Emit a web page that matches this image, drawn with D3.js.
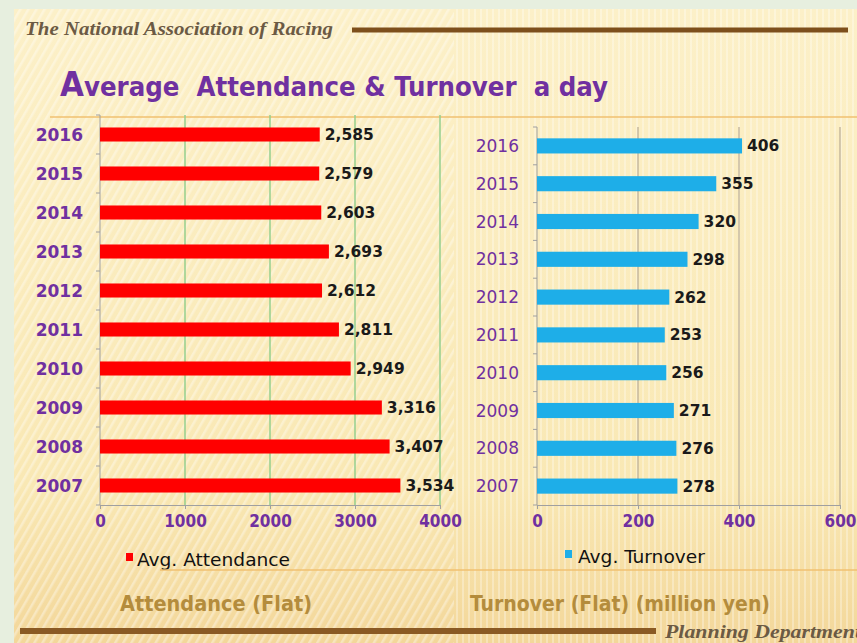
<!DOCTYPE html>
<html>
<head>
<meta charset="utf-8">
<script src="https://cdn.jsdelivr.net/npm/d3@7"></script>
<style>
html,body{margin:0;padding:0;background:#e7efdf;}
svg{display:block;}
</style>
</head>
<body>
<svg id="chart" width="857" height="643"></svg>
<script>
// ---- data ----
const years = ["2016","2015","2014","2013","2012","2011","2010","2009","2008","2007"];
const attendance = [2585, 2579, 2603, 2693, 2612, 2811, 2949, 3316, 3407, 3534];
const turnover = [406, 355, 320, 298, 262, 253, 256, 271, 276, 278];
const attendanceTicks = [0, 1000, 2000, 3000, 4000];
const turnoverTicks = [0, 200, 400, 600];

const svg = d3.select("#chart");
const W = 857, H = 643;
const condensed = "'DejaVu Sans Condensed','Liberation Sans Narrow','DejaVu Sans',sans-serif";
const purple = "#7030a0";

// ---- background ----
const defs = svg.append("defs");
const bg = defs.append("linearGradient").attr("id","bgGrad").attr("x1",0).attr("y1",0).attr("x2",0).attr("y2",1);
bg.append("stop").attr("offset","0%").attr("stop-color","#fcf0c8");
bg.append("stop").attr("offset","75%").attr("stop-color","#f9e8b4");
bg.append("stop").attr("offset","100%").attr("stop-color","#f3d79a");
const diag = defs.append("pattern").attr("id","diag").attr("width",7).attr("height",7)
  .attr("patternUnits","userSpaceOnUse").attr("patternTransform","rotate(30)");
diag.append("rect").attr("width",2.5).attr("height",7).attr("fill","#ffffff").attr("opacity",0.35);
const vert = defs.append("pattern").attr("id","vert").attr("width",6).attr("height",6)
  .attr("patternUnits","userSpaceOnUse");
vert.append("rect").attr("width",2).attr("height",6).attr("fill","#ffffff").attr("opacity",0.3);

svg.append("rect").attr("x",14).attr("y",9).attr("width",W-14).attr("height",H-9).attr("fill","url(#bgGrad)");
svg.append("rect").attr("x",14).attr("y",9).attr("width",440).attr("height",H-9).attr("fill","url(#diag)");
svg.append("rect").attr("x",454).attr("y",9).attr("width",W-454).attr("height",H-9).attr("fill","url(#vert)");

// header
svg.append("text").attr("x",25).attr("y",35)
  .attr("font-family","'Liberation Serif','DejaVu Serif',serif").attr("font-style","italic").attr("font-weight","bold")
  .attr("font-size",18).attr("fill","#6b5a44").attr("textLength",308).attr("lengthAdjust","spacingAndGlyphs")
  .text("The National Association of Racing");
svg.append("line").attr("x1",352).attr("x2",848).attr("y1",30).attr("y2",30)
  .attr("stroke","#7d4f1c").attr("stroke-width",5);
svg.append("line").attr("x1",50).attr("x2",W).attr("y1",117).attr("y2",117)
  .attr("stroke","#f0c070").attr("stroke-width",1.5);

// title
const title = svg.append("text").attr("x",60).attr("y",96).style("white-space","pre")
  .attr("font-family",condensed).attr("font-weight","bold").attr("fill",purple)
  .attr("textLength",548).attr("lengthAdjust","spacingAndGlyphs");
title.append("tspan").attr("font-size",34).text("A");
title.append("tspan").attr("font-size",27).text("verage  Attendance & Turnover  a day");

// ---- left chart: attendance ----
const xA = d3.scaleLinear().domain([0,4000]).range([100,440]);
const yA = d3.scaleBand().domain(years).range([115,505]).paddingInner(0.64).paddingOuter(0.32);

const gA = svg.append("g");
gA.selectAll("line.grid").data(attendanceTicks.slice(1)).join("line")
  .attr("x1",d=>xA(d)).attr("x2",d=>xA(d)).attr("y1",115).attr("y2",505)
  .attr("stroke","#96cf8e").attr("stroke-width",1.5);

gA.append("line").attr("x1",100).attr("x2",100).attr("y1",115).attr("y2",505).attr("stroke","#a0a0a0");
const stepA = yA.step();
gA.selectAll("line.tk").data(d3.range(years.length+1)).join("line")
  .attr("x1",96).attr("x2",100).attr("y1",i=>115+i*stepA).attr("y2",i=>115+i*stepA).attr("stroke","#a0a0a0");

const axA = gA.append("g").attr("transform","translate(0,505)")
  .call(d3.axisBottom(xA).tickValues(attendanceTicks).tickFormat(d3.format("d")).tickSize(4).tickPadding(6));
axA.select(".domain").attr("stroke","#a0a0a0");
axA.selectAll(".tick line").attr("stroke","#a0a0a0");
axA.selectAll("text").attr("font-family",condensed).attr("font-size",17).attr("fill",purple).attr("font-weight","bold");

gA.selectAll("rect.bar").data(attendance).join("rect")
  .attr("x",xA(0)).attr("y",(d,i)=>yA(years[i]))
  .attr("width",d=>xA(d)-xA(0)).attr("height",yA.bandwidth()).attr("fill","#ff0000");

gA.selectAll("text.year").data(years).join("text")
  .attr("x",83).attr("y",d=>yA(d)+yA.bandwidth()/2).attr("dy","0.36em").attr("text-anchor","end")
  .attr("font-family","'DejaVu Sans',sans-serif").attr("font-weight","bold").attr("font-size",17).attr("fill",purple)
  .text(d=>d);

gA.selectAll("text.val").data(attendance).join("text")
  .attr("x",d=>xA(d)+5).attr("y",(d,i)=>yA(years[i])+yA.bandwidth()/2).attr("dy","0.36em")
  .attr("font-family","'DejaVu Sans',sans-serif").attr("font-weight","bold").attr("font-size",15.5).attr("fill","#1a1a1a")
  .text(d=>d3.format(",")(d));

// ---- right chart: turnover ----
const xB = d3.scaleLinear().domain([0,600]).range([537,840]);
const yB = d3.scaleBand().domain(years).range([127,505]).paddingInner(0.6).paddingOuter(0.3);

const gB = svg.append("g");
gB.selectAll("line.grid").data(turnoverTicks.slice(1)).join("line")
  .attr("x1",d=>xB(d)).attr("x2",d=>xB(d)).attr("y1",127).attr("y2",505)
  .attr("stroke","#b9ab92").attr("stroke-width",1.2);
gB.append("line").attr("x1",537).attr("x2",537).attr("y1",127).attr("y2",505).attr("stroke","#a0a0a0");
const stepB = yB.step();
gB.selectAll("line.tk").data(d3.range(years.length+1)).join("line")
  .attr("x1",533).attr("x2",537).attr("y1",i=>127+i*stepB).attr("y2",i=>127+i*stepB).attr("stroke","#a0a0a0");

const axB = gB.append("g").attr("transform","translate(0,505)")
  .call(d3.axisBottom(xB).tickValues(turnoverTicks).tickFormat(d3.format("d")).tickSize(4).tickPadding(6));
axB.select(".domain").attr("stroke","#a0a0a0");
axB.selectAll(".tick line").attr("stroke","#a0a0a0");
axB.selectAll("text").attr("font-family",condensed).attr("font-size",17).attr("fill",purple).attr("font-weight","bold");

gB.selectAll("rect.bar").data(turnover).join("rect")
  .attr("x",xB(0)).attr("y",(d,i)=>yB(years[i]))
  .attr("width",d=>xB(d)-xB(0)).attr("height",yB.bandwidth()).attr("fill","#1eaee8");

gB.selectAll("text.year").data(years).join("text")
  .attr("x",519).attr("y",d=>yB(d)+yB.bandwidth()/2).attr("dy","0.36em").attr("text-anchor","end")
  .attr("font-family","'DejaVu Sans',sans-serif").attr("font-size",17).attr("fill",purple)
  .text(d=>d);

gB.selectAll("text.val").data(turnover).join("text")
  .attr("x",d=>xB(d)+5).attr("y",(d,i)=>yB(years[i])+yB.bandwidth()/2).attr("dy","0.36em")
  .attr("font-family","'DejaVu Sans',sans-serif").attr("font-weight","bold").attr("font-size",15.5).attr("fill","#1a1a1a")
  .text(d=>d);

// ---- legends ----
svg.append("rect").attr("x",126).attr("y",553).attr("width",7).attr("height",8).attr("fill","#ff0000");
svg.append("text").attr("x",137).attr("y",566).attr("font-family",condensed).attr("font-size",17).attr("fill","#111")
  .attr("textLength",153).attr("lengthAdjust","spacingAndGlyphs")
  .text("Avg. Attendance");
svg.append("rect").attr("x",565).attr("y",550).attr("width",7).attr("height",8).attr("fill","#1eaee8");
svg.append("text").attr("x",578).attr("y",563).attr("font-family",condensed).attr("font-size",17).attr("fill","#111")
  .attr("textLength",127).attr("lengthAdjust","spacingAndGlyphs")
  .text("Avg. Turnover");
svg.append("line").attr("x1",160).attr("x2",W).attr("y1",570).attr("y2",570)
  .attr("stroke","#f0c070").attr("stroke-width",1.5);

// ---- subtitles ----
svg.append("text").attr("x",120).attr("y",611).attr("font-family",condensed).attr("font-size",21).attr("font-weight","bold")
  .attr("fill","#b48c3c").attr("textLength",192).attr("lengthAdjust","spacingAndGlyphs")
  .text("Attendance (Flat)");
svg.append("text").attr("x",470).attr("y",611).attr("font-family",condensed).attr("font-size",21).attr("font-weight","bold")
  .attr("fill","#b48c3c").attr("textLength",300).attr("lengthAdjust","spacingAndGlyphs")
  .text("Turnover (Flat) (million yen)");

// ---- footer ----
svg.append("line").attr("x1",20).attr("x2",656).attr("y1",631).attr("y2",631)
  .attr("stroke","#8a5a24").attr("stroke-width",6);
svg.append("text").attr("x",665).attr("y",638)
  .attr("font-family","'Liberation Serif','DejaVu Serif',serif").attr("font-style","italic").attr("font-weight","bold")
  .attr("font-size",19).attr("fill","#6b5a44").attr("textLength",196).attr("lengthAdjust","spacingAndGlyphs")
  .text("Planning Department");
</script>
</body>
</html>
